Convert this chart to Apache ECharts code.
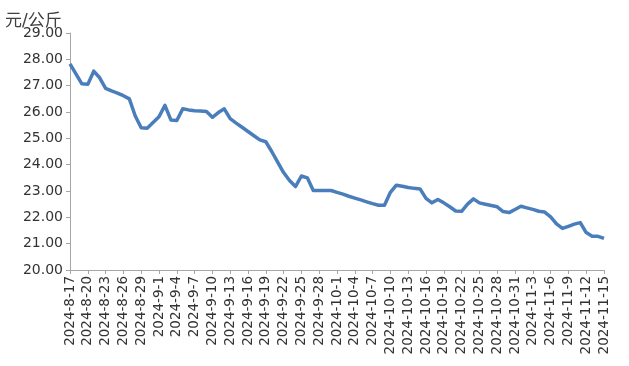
<!DOCTYPE html>
<html>
<head>
<meta charset="utf-8">
<script src="https://cdn.jsdelivr.net/npm/echarts@6/dist/echarts.min.js"></script>
<style>html,body{margin:0;padding:0;background:#fff;}#c{width:629px;height:366px;}</style>
</head>
<body>
<div id="c"></div>
<script>
// Daily dates 2024-8-17 .. 2024-11-15
const categories = [
"2024-8-17","2024-8-18","2024-8-19","2024-8-20","2024-8-21","2024-8-22","2024-8-23","2024-8-24","2024-8-25","2024-8-26",
"2024-8-27","2024-8-28","2024-8-29","2024-8-30","2024-8-31","2024-9-1","2024-9-2","2024-9-3","2024-9-4","2024-9-5",
"2024-9-6","2024-9-7","2024-9-8","2024-9-9","2024-9-10","2024-9-11","2024-9-12","2024-9-13","2024-9-14","2024-9-15",
"2024-9-16","2024-9-17","2024-9-18","2024-9-19","2024-9-20","2024-9-21","2024-9-22","2024-9-23","2024-9-24","2024-9-25",
"2024-9-26","2024-9-27","2024-9-28","2024-9-29","2024-9-30","2024-10-1","2024-10-2","2024-10-3","2024-10-4","2024-10-5",
"2024-10-6","2024-10-7","2024-10-8","2024-10-9","2024-10-10","2024-10-11","2024-10-12","2024-10-13","2024-10-14","2024-10-15",
"2024-10-16","2024-10-17","2024-10-18","2024-10-19","2024-10-20","2024-10-21","2024-10-22","2024-10-23","2024-10-24","2024-10-25",
"2024-10-26","2024-10-27","2024-10-28","2024-10-29","2024-10-30","2024-10-31","2024-11-1","2024-11-2","2024-11-3","2024-11-4",
"2024-11-5","2024-11-6","2024-11-7","2024-11-8","2024-11-9","2024-11-10","2024-11-11","2024-11-12","2024-11-13","2024-11-14",
"2024-11-15"
];
const prices = [
27.83,27.45,27.07,27.05,27.55,27.30,26.90,26.80,26.72,26.62,
26.50,25.85,25.40,25.38,25.60,25.82,26.25,25.70,25.68,26.12,
26.08,26.05,26.04,26.02,25.80,25.98,26.12,25.75,25.58,25.42,
25.26,25.10,24.94,24.87,24.50,24.10,23.70,23.40,23.17,23.57,
23.50,23.02,23.02,23.02,23.02,22.95,22.88,22.80,22.73,22.66,
22.59,22.52,22.46,22.46,22.95,23.22,23.18,23.13,23.10,23.08,
22.72,22.55,22.68,22.55,22.40,22.24,22.23,22.50,22.70,22.55,
22.50,22.45,22.40,22.22,22.18,22.30,22.42,22.36,22.30,22.23,
22.20,22.02,21.75,21.58,21.66,21.74,21.80,21.42,21.28,21.28,
21.20
];
const unitLabel = "元/公斤";

const chart = echarts.init(document.getElementById('c'), null, {renderer:'canvas'});
chart.setOption({
  animation:false,
  backgroundColor:'#ffffff',
  title:{text:unitLabel,left:0,top:8,textStyle:{fontFamily:'DejaVu Sans, Noto Sans CJK SC',fontSize:17,fontWeight:'normal',color:'#404040'}},
  grid:{left:70,right:25,top:33,bottom:96},
  xAxis:{
    type:'category',data:categories,boundaryGap:false,
    axisLine:{lineStyle:{color:'#a6a6a6',width:1}},
    axisTick:{show:true,interval:2,length:4,lineStyle:{color:'#a6a6a6'}},
    axisLabel:{interval:2,rotate:90,fontFamily:'DejaVu Sans',fontSize:13.5,color:'#333333',margin:6}
  },
  yAxis:{
    type:'value',min:20,max:29,interval:1,
    axisLine:{show:true,lineStyle:{color:'#a6a6a6',width:1}},
    axisTick:{show:true,length:4,lineStyle:{color:'#a6a6a6'}},
    splitLine:{show:false},
    axisLabel:{formatter:v=>v.toFixed(2),fontFamily:'DejaVu Sans',fontSize:14,color:'#333333',margin:7}
  },
  series:[{
    type:'line',data:prices,showSymbol:false,symbol:'none',
    lineStyle:{color:'#4a7ebb',width:3.5,join:'round'}
  }]
});
</script>
</body>
</html>
